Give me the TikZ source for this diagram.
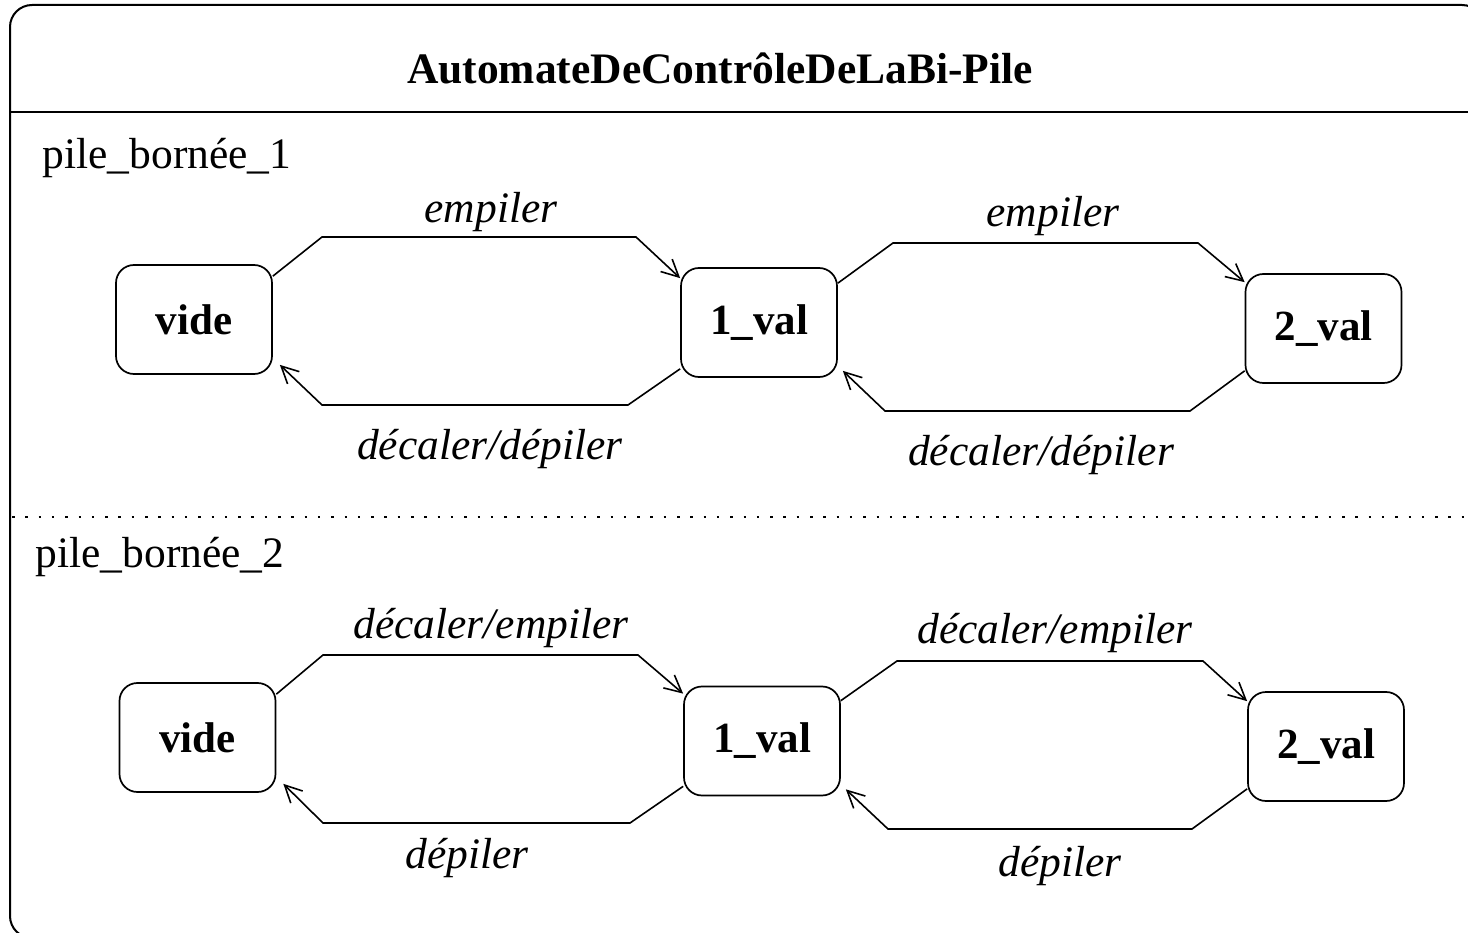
\documentclass[tikz,border=0pt]{standalone}
\usepackage{fontspec}
\setmainfont{Liberation Serif}
\usetikzlibrary{arrows.meta}
\begin{document}
\begin{tikzpicture}[x=1pt,y=-1pt,
  state/.style={draw,line width=1.7pt,rounded corners=18pt,minimum width=156pt,minimum height=109pt,
    inner sep=0pt,font=\fontsize{43}{50}\selectfont\bfseries},
  edge/.style={line width=1.6pt,-{Straight Barb[length=17pt,width=17pt,line width=1.6pt]}},
  lab/.style={font=\fontsize{43.5}{50}\selectfont\itshape,inner sep=0pt},
  title/.style={font=\fontsize{43.5}{50}\selectfont\bfseries,inner sep=0pt},
  region/.style={font=\fontsize{43.5}{50}\selectfont,inner sep=0pt}]
\useasboundingbox (0,0) rectangle (1468,933);
\clip (0,0) rectangle (1468,933);

% outer frame, title bar and region separator
\draw[line width=2pt,rounded corners=22pt] (10,5) rectangle (1484,938);
\draw[line width=2pt] (10,112) -- (1468,112);
\draw[line width=1.6pt,dash pattern=on 2.5pt off 10.8pt] (12,517) -- (1468,517);

\node[title] (ttl) at (720,68) {AutomateDeContrôleDeLaBi-Pile};
\node[region] (r1) at (167,158) {pile\_bornée\_1};
\node[region] (r2) at (160,557) {pile\_bornée\_2};

% first region
\node[state] (v1) at (194,319.5) {vide};
\node[state] (a1) at (759,322.5) {1\_val};
\node[state] (b1) at (1323.5,328.5) {2\_val};

\draw[edge] ([yshift=-12pt]v1.north east) -- (322,237) -- (636,237) -- ([yshift=-11pt]a1.north west);
\draw[edge] ([yshift=9pt]a1.south west) -- (628,405) -- (322,405) -- ([xshift=7pt,yshift=10pt]v1.south east);
\draw[edge] ([yshift=-16pt]a1.north east) -- (893,243) -- (1198,243) -- ([yshift=-9pt]b1.north west);
\draw[edge] ([yshift=13pt]b1.south west) -- (1190,411) -- (885,411) -- ([xshift=5pt,yshift=7pt]a1.south east);

\node[lab] (l1) at (491,212) {empiler};
\node[lab] (l2) at (490,449) {décaler/dépiler};
\node[lab] (l3) at (1053,216) {empiler};
\node[lab] (l4) at (1041,455) {décaler/dépiler};

% second region
\node[state] (v2) at (197.5,737.5) {vide};
\node[state] (a2) at (762,741) {1\_val};
\node[state] (b2) at (1326,746.5) {2\_val};

\draw[edge] ([yshift=-12pt]v2.north east) -- (323,655) -- (638,655) -- ([yshift=-8pt]a2.north west);
\draw[edge] ([yshift=10pt]a2.south west) -- (630,823) -- (323,823) -- ([xshift=7pt,yshift=9pt]v2.south east);
\draw[edge] ([yshift=-15pt]a2.north east) -- (897,661) -- (1203,661) -- ([yshift=-10pt]b2.north west);
\draw[edge] ([yshift=13pt]b2.south west) -- (1192,829) -- (888,829) -- ([xshift=5pt,yshift=7pt]a2.south east);

\node[lab] (l5) at (491,628) {décaler/empiler};
\node[lab] (l6) at (467,858) {dépiler};
\node[lab] (l7) at (1055,633) {décaler/empiler};
\node[lab] (l8) at (1060,866) {dépiler};
\end{tikzpicture}
\end{document}
